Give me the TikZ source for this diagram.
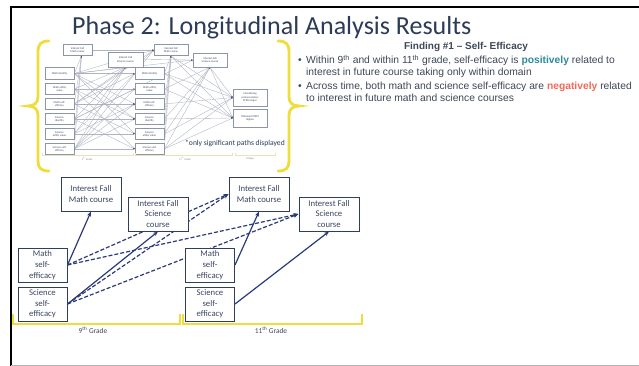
\documentclass[tikz,border=0pt]{standalone}
\usepackage{fontspec}
\setmainfont{Carlito}
\newfontfamily\arialfont{Liberation Sans}
\usetikzlibrary{arrows.meta}
\definecolor{titleblue}{HTML}{2C3B57}
\definecolor{bodytext}{HTML}{3E4757}
\definecolor{posteal}{HTML}{2E8A9C}
\definecolor{negred}{HTML}{F26A5A}
\definecolor{bracey}{HTML}{EEDD3A}
\definecolor{navyline}{HTML}{2B3A78}
\definecolor{boxedge}{HTML}{2F3E5E}
\definecolor{boxtext}{HTML}{3A4660}
\definecolor{smalledge}{HTML}{8C96AA}
\definecolor{smallline}{HTML}{AEB3C0}
\definecolor{smalltip}{HTML}{4A5268}
\definecolor{tanline}{HTML}{E9E3BC}
\pgfdeclarelayer{paper}
\pgfdeclarelayer{edges}
\pgfsetlayers{paper,edges,main}
\tikzset{
  smallbox/.style={draw=smalledge, line width=0.5pt, fill=white, align=center,
    inner sep=0pt, minimum width=29, minimum height=11.5, text=boxtext,
    font=\fontsize{2.8}{3.3}\selectfont},
  smallpath/.style={draw=smallline, line width=0.35pt,
    -{Latex[length=1.4pt,width=1.3pt,color=smalltip]}},
  bigbox/.style={draw=boxedge, line width=1pt, fill=white, align=center,
    inner sep=0pt, minimum width=60, minimum height=34, text=boxtext,
    font=\fontsize{8.7}{10.7}\selectfont},
  sebox/.style={bigbox, minimum width=49},
  pospath/.style={draw=navyline, line width=1.2pt,
    -{Stealth[length=5pt,width=4pt]}},
  negpath/.style={pospath, dash pattern=on 4pt off 2pt},
  brace/.style={draw=bracey, line width=2.8pt, line cap=round},
  bodyline/.style={anchor=base west, inner sep=0pt, text=bodytext,
    font=\arialfont\fontsize{10.3}{11}\selectfont},
}
\begin{document}
\begin{tikzpicture}[x=1pt,y=-1pt]
\useasboundingbox (0,0) rectangle (639,366);
\begin{pgfonlayer}{paper}
  \fill[white] (0,0) rectangle (639,366);
  % slide frame
  \draw[black, line width=2pt] (11,366) -- (11,7) -- (640,7);
  \draw[gray!60, line width=1pt] (11,365.5) -- (639,365.5);
\end{pgfonlayer}

% title
\node[anchor=base west, inner sep=0pt, text=titleblue,
  font=\fontsize{26}{30}\selectfont] (title) at (72,35)
  {Phase 2: Longitudinal Analysis Results};

% ---------- small path model ----------
\node[smallbox] (im9) at (77.5,50) {Interest Fall\\Math course};
\node[smallbox, minimum width=35, minimum height=15] (is9) at (125.5,59.5) {Interest Fall\\Science course};
\node[smallbox, minimum width=34] (im11) at (171,50) {Interest Fall\\Math course};
\node[smallbox, minimum width=34, minimum height=14] (is11) at (210,60) {Interest Fall\\Science course};
\foreach \n/\y/\t in {1/73.5/{Math identity},2/89/{Math utility\\value},3/104/{Math self-\\efficacy},
                      4/119/{Science\\identity},5/134/{Science\\utility value},6/149/{Science self-\\efficacy}}{
  \node[smallbox] (a\n) at (59.5,\y) {\t};
  \node[smallbox] (b\n) at (149.5,\y) {\t};
}
\node[smallbox, minimum width=34, minimum height=17] (c1) at (250,97.5) {Considering\\postsecondary\\STEM major};
\node[smallbox, minimum width=34, minimum height=18] (c2) at (250,118) {Obtained STEM\\degree};

\begin{pgfonlayer}{edges}
  \foreach \s in {1,3,5,6}{\draw[smallpath] (a\s.east) -- ([xshift=4pt]im9.south);}
  \foreach \s in {1,2,3,4,5,6}{\draw[smallpath] (a\s.east) -- (is9.south);}
  \foreach \s/\t in {1/1,1/3,1/4,1/5,2/2,2/4,2/6,3/1,3/3,3/5,4/2,4/4,4/6,5/1,5/3,5/5,6/2,6/3,6/4,6/6}{
    \draw[smallpath] (a\s.east) -- (b\t.west);}
  \foreach \s in {1,3,6}{\draw[smallpath] (a\s.east) -- (im11.west);}
  \foreach \s in {1,4}{\draw[smallpath] (a\s.east) -- (is11.west);}
  \draw[smallpath] (im9.east) -- (im11.west);
  \draw[smallpath] (is9.east) -- (im11.west);
  \draw[smallpath] (is9.east) -- (is11.west);
  \foreach \s in {1,3,4,5,6}{\draw[smallpath] (b\s.east) -- (im11.south);}
  \foreach \s in {2,4,5,6}{\draw[smallpath] (b\s.east) -- (is11.south);}
  \foreach \s in {1,3,5,6}{\draw[smallpath] (b\s.east) -- (c1.west);}
  \foreach \s in {1,2,4,6}{\draw[smallpath] (b\s.east) -- (c2.west);}
  \draw[smallpath] (is11.south) -- (c1.west);
  \draw[smallpath] (is11.south) -- (c2.west);
  \draw[smallpath] (im11.south) -- (c1.west);
  \draw[smallpath] (im11.south) -- (c2.west);
\end{pgfonlayer}

% grade strips of the small model
\draw[tanline, line width=0.6pt] (42,153) -- (42,155) -- (133,155) -- (133,153)
  (135,153) -- (135,155) -- (232,155) -- (232,153)
  (235,153) -- (235,155) -- (275,155) -- (275,153);
\node[font=\fontsize{2.6}{3}\selectfont, text=gray] (sg9) at (87,158.5) {9\textsuperscript{th} Grade};
\node[font=\fontsize{2.6}{3}\selectfont, text=gray] (sg11) at (185,158.5) {11\textsuperscript{th} Grade};
\node[font=\fontsize{2.6}{3}\selectfont, text=gray] (sgc) at (250,158.5) {College};
\node[font=\fontsize{7.6}{9}\selectfont, text=titleblue, inner sep=0pt] (note) at (235,143)
  {*only significant paths displayed};

% yellow braces
\draw[brace] (49,41) .. controls (41,41) and (38,44) .. (38,52) -- (38,97)
  .. controls (38,103) and (34,106) .. (28,106)
  .. controls (34,106) and (38,109) .. (38,115) -- (38,161)
  .. controls (38,168) and (41,171) .. (49,171);
\draw[brace] (278,41) .. controls (286,41) and (289,44) .. (289,52) -- (289,97)
  .. controls (289,103) and (293,106) .. (299,106)
  .. controls (293,106) and (289,109) .. (289,115) -- (289,161)
  .. controls (289,168) and (286,171) .. (278,171);

% ---------- finding text ----------
\node[anchor=base, inner sep=0pt, text=bodytext,
  font=\arialfont\bfseries\fontsize{10}{11}\selectfont] (head) at (466,49.5)
  {Finding \#1 – Self- Efficacy};
\node[bodyline] (bul1) at (298,64) {•};
\node[bodyline] (l1) at (306,64) {Within 9\textsuperscript{th} and within 11\textsuperscript{th} grade, self-efficacy is \textcolor{posteal}{\bfseries positively} related to};
\node[bodyline] (l2) at (306,76) {interest in future course taking only within domain};
\node[bodyline] (bul2) at (298,90) {•};
\node[bodyline] (l3) at (306,90) {Across time, both math and science self-efficacy are \textcolor{negred}{\bfseries negatively} related};
\node[bodyline] (l4) at (306,102) {to interest in future math and science courses};

% ---------- focused model ----------
\node[bigbox] (im9b) at (91,194) {Interest Fall\\Math course};
\node[bigbox] (is9b) at (158,214) {Interest Fall\\Science\\course};
\node[sebox] (mse9) at (42.5,265) {Math\\self-\\efficacy};
\node[sebox] (sse9) at (42.5,304) {Science\\self-\\efficacy};
\node[bigbox] (im11b) at (259,194) {Interest Fall\\Math course};
\node[bigbox] (is11b) at (329,214) {Interest Fall\\Science\\course};
\node[sebox] (mse11) at (210,265) {Math\\self-\\efficacy};
\node[sebox] (sse11) at (210,304) {Science\\self-\\efficacy};

\begin{pgfonlayer}{edges}
  \draw[pospath] (mse9.east) -- (im9b.south);
  \draw[pospath] (sse9.east) -- (is9b.south);
  \draw[pospath] (mse11.east) -- (im11b.south);
  \draw[pospath] (sse11.east) -- (is11b.south);
  \draw[negpath] (mse9.east) -- (im11b.west);
  \draw[negpath] (mse9.east) -- (is11b.west);
  \draw[negpath] (sse9.east) -- (im11b.west);
  \draw[negpath] (sse9.east) -- (is11b.west);
\end{pgfonlayer}

% grade brackets
\draw[bracey, line width=1.5pt] (13,314) -- (13,324) -- (180,324) -- (180,314)
  (183,314) -- (183,324) -- (362,324) -- (362,314);
\node[font=\fontsize{7.4}{9}\selectfont, text=bodytext] (g9) at (93,330) {9\textsuperscript{th} Grade};
\node[font=\fontsize{7.4}{9}\selectfont, text=bodytext] (g11) at (271,330) {11\textsuperscript{th} Grade};
\end{tikzpicture}
\end{document}
